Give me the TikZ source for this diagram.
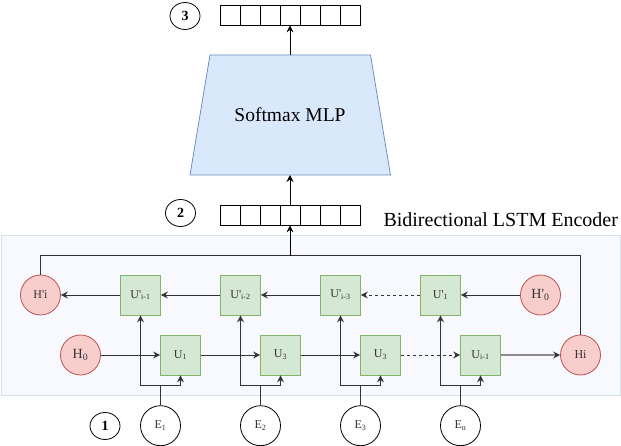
\documentclass[tikz,border=0pt]{standalone}
\usepackage{fontspec}
\setmainfont{Liberation Serif}[Ligatures=TeXOff]
\usetikzlibrary{arrows.meta,shapes.geometric}
\definecolor{gfill}{HTML}{D5E8D4}
\definecolor{gdraw}{HTML}{82B366}
\definecolor{rfill}{HTML}{F8CECC}
\definecolor{rdraw}{HTML}{B85450}
\definecolor{bfill}{HTML}{DAE8FC}
\definecolor{bdraw}{HTML}{6C8EBF}
\definecolor{encfill}{HTML}{F7F9FE}
\definecolor{encdraw}{HTML}{D8DFEA}
\definecolor{dk}{HTML}{333333}
\tikzset{
  tip/.style={-{Stealth[length=7pt,width=7pt,inset=2.5pt]}},
  ubox/.style={rectangle,minimum width=40pt,minimum height=40pt,inner sep=0pt,fill=gfill,draw=gdraw,line width=0.8pt,text=dk,font=\fontsize{12}{14}\selectfont},
  hcirc/.style={circle,minimum size=40pt,inner sep=0pt,fill=rfill,draw=rdraw,line width=0.8pt,text=dk,font=\fontsize{12}{14}\selectfont},
  ecirc/.style={circle,minimum size=40pt,inner sep=0pt,fill=white,draw=black,line width=0.8pt,text=dk,font=\fontsize{12}{14}\selectfont},
  numc/.style={ellipse,minimum width=30pt,minimum height=27pt,inner sep=0pt,draw=black,line width=0.8pt,font=\fontsize{14}{16}\selectfont\bfseries},
  cell/.style={rectangle,minimum width=20pt,minimum height=20pt,inner sep=0pt,draw=black,line width=0.8pt},
  conn/.style={tip,draw=dk,line width=0.8pt},
  plain/.style={draw=dk,line width=0.8pt},
}
\begin{document}
\begin{tikzpicture}[x=1pt,y=-1pt]
\useasboundingbox (0,0) rectangle (621,446);
% encoder container
\node[rectangle,fill=encfill,draw=encdraw,line width=0.8pt,minimum width=619pt,minimum height=160pt,inner sep=0pt] (enc) at (310.5,315) {};
\node[anchor=base west,inner sep=0pt,font=\fontsize{20}{24}\selectfont] (enclabel) at (383.3,226.7) {Bidirectional LSTM Encoder};
% arrays
\foreach \k in {1,...,7} {
  \node[cell] (a3c\k) at ({210+20*\k},15) {};
  \node[cell] (a2c\k) at ({210+20*\k},215) {};
}
\node[numc] (n3) at (185,16) {3};
\node[numc] (n2) at (180.5,213) {2};
\node[numc] (n1) at (105,426) {1};
% MLP trapezoid
\coordinate (mlpN) at (290,55);
\coordinate (mlpS) at (290,175);
\draw[fill=bfill,draw=bdraw,line width=0.8pt] (210,55) -- (370.5,55) -- (390.5,175) -- (190,175) -- cycle;
\node[font=\fontsize{19.5}{22}\selectfont,inner sep=0pt] (mlp) at (290,115) {Softmax MLP};
% top row
\node[hcirc] (Hpi) at (40.5,295) {H'i};
\node[ubox] (Up1) at (140.5,295) {U'\textsubscript{i-1}};
\node[ubox] (Up2) at (240.5,295) {U'\textsubscript{i-2}};
\node[ubox] (Up3) at (340.5,295) {U'\textsubscript{i-3}};
\node[ubox] (Upf) at (440.5,295) {U'\textsubscript{1}};
\node[hcirc,font=\fontsize{14}{16}\selectfont] (Hp0) at (540.5,295) {H'\textsubscript{0}};
% bottom row
\node[hcirc,font=\fontsize{14}{16}\selectfont] (H0) at (80.5,355) {H\textsubscript{0}};
\node[ubox] (U1) at (180.5,355) {U\textsubscript{1}};
\node[ubox] (U3a) at (280.5,355) {U\textsubscript{3}};
\node[ubox] (U3b) at (380.5,355) {U\textsubscript{3}};
\node[ubox] (Ul) at (480.5,355) {U\textsubscript{i-1}};
\node[hcirc] (Hi) at (580.5,355) {Hi};
% inputs
\node[ecirc] (E1) at (160.5,425.7) {E\textsubscript{1}};
\node[ecirc] (E2) at (260.5,425.7) {E\textsubscript{2}};
\node[ecirc] (E3) at (360.5,425.7) {E\textsubscript{3}};
\node[ecirc] (En) at (460.5,425.7) {E\textsubscript{n}};
% top row connectors
\draw[conn] (Hp0) -- (Upf);
\draw[conn,dashed] (Upf) -- (Up3);
\draw[conn] (Up3) -- (Up2);
\draw[conn] (Up2) -- (Up1);
\draw[conn] (Up1) -- (Hpi);
% bottom row connectors
\draw[conn] (H0) -- (U1);
\draw[conn] (U1) -- (U3a);
\draw[conn] (U3a) -- (U3b);
\draw[conn,dashed] (U3b) -- (Ul);
\draw[-{Stealth[length=7pt,width=7pt,inset=2.5pt,color=dk]},draw=black!45,line width=1.6pt] (Ul) -- (Hi);
% input connectors
\foreach \e/\a/\b in {E1/Up1/U1,E2/Up2/U3a,E3/Up3/U3b,En/Upf/Ul} {
  \coordinate (j\e) at ([yshift=20pt]\e.north);
  \draw[plain] (\e.north) -- (j\e);
  \draw[conn] (j\e) -| (\a.south);
  \draw[conn] (j\e) -| (\b.south);
}
% bus
\coordinate (bus) at (290,255.7);
\draw[plain] (Hpi.north) |- (bus) -| (Hi.north);
\draw[tip,draw=black,line width=0.8pt] (bus) -- (a2c4.south);
\draw[tip,draw=black,line width=0.8pt] (a2c4.north) -- (mlpS);
\draw[tip,draw=black,line width=0.8pt] (mlpN) -- (a3c4.south);
\end{tikzpicture}
\end{document}
